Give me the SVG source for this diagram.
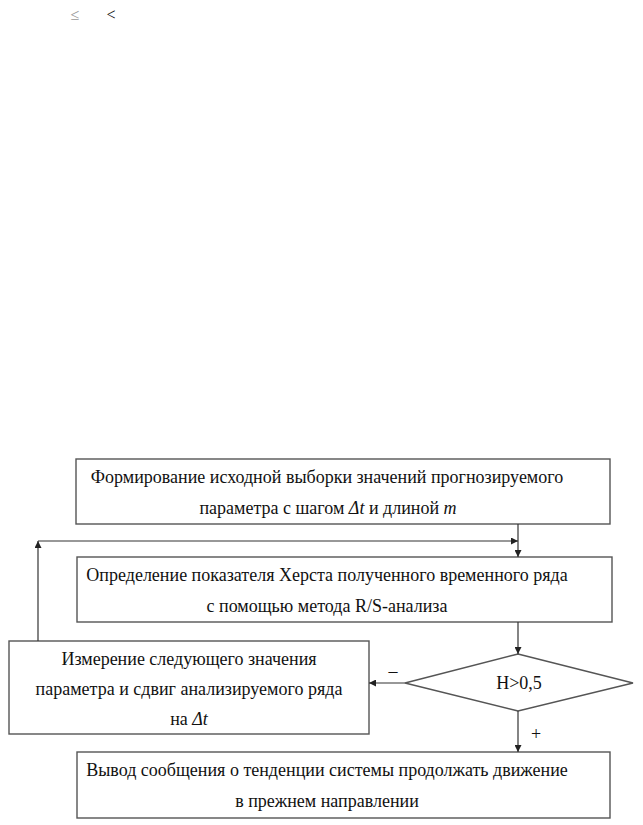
<svg xmlns="http://www.w3.org/2000/svg" width="643" height="825" viewBox="0 0 643 825">
<defs>
<style>
.b{fill:#fff;stroke:#555;stroke-width:1.4}
.t{font-family:'Liberation Serif','DejaVu Serif',serif;font-size:18px;fill:#111;text-anchor:middle}
.c{fill:none;stroke:#333;stroke-width:1.2}
</style>
<marker id="a" viewBox="0 0 10 10" refX="10" refY="5" markerWidth="7" markerHeight="7" orient="auto" markerUnits="userSpaceOnUse"><path d="M0,0L10,5L0,10z" fill="#222"/></marker>
</defs>
<rect width="643" height="825" fill="#fff"/>
<text x="75" y="20" class="t" style="fill:#999;font-size:16px">≤</text>
<text x="111" y="20" class="t" style="font-size:16px">&lt;</text>
<g id="n1"><rect class="b" x="76" y="459" width="534" height="65"/>
<text class="t" x="327" y="483">Формирование исходной выборки значений прогнозируемого</text>
<text class="t" x="328" y="514">параметра с шагом <tspan font-style="italic">Δt</tspan> и длиной <tspan font-style="italic">m</tspan></text></g>
<g id="n2"><rect class="b" x="77" y="557" width="535" height="65"/>
<text class="t" x="327" y="581">Определение показателя Херста полученного временного ряда</text>
<text class="t" x="327" y="612">с помощью метода R/S-анализа</text></g>
<g id="n3"><rect class="b" x="9" y="641" width="360" height="93"/>
<text class="t" x="189" y="665">Измерение следующего значения</text>
<text class="t" x="189" y="695">параметра и сдвиг анализируемого ряда</text>
<text class="t" x="189" y="725">на <tspan font-style="italic">Δt</tspan></text></g>
<g id="n4"><polygon class="b" points="518,654 633,683 518,711 405,683"/>
<text class="t" x="519" y="689">H&gt;0,5</text></g>
<g id="n5"><rect class="b" x="77" y="752" width="533" height="66"/>
<text class="t" x="327" y="776">Вывод сообщения о тенденции системы продолжать движение</text>
<text class="t" x="327" y="807">в прежнем направлении</text></g>
<g id="conn">
<path class="c" d="M518,524V557" marker-end="url(#a)"/>
<path class="c" d="M38,641V541" marker-end="url(#a)"/>
<path class="c" d="M38,541H518" marker-end="url(#a)"/>
<path class="c" d="M518,622V654" marker-end="url(#a)"/>
<path class="c" d="M405,683H369" marker-end="url(#a)"/>
<path class="c" d="M518,711V752" marker-end="url(#a)"/>
<text class="t" x="393" y="677">–</text>
<text class="t" x="536" y="740">+</text>
</g>
</svg>
